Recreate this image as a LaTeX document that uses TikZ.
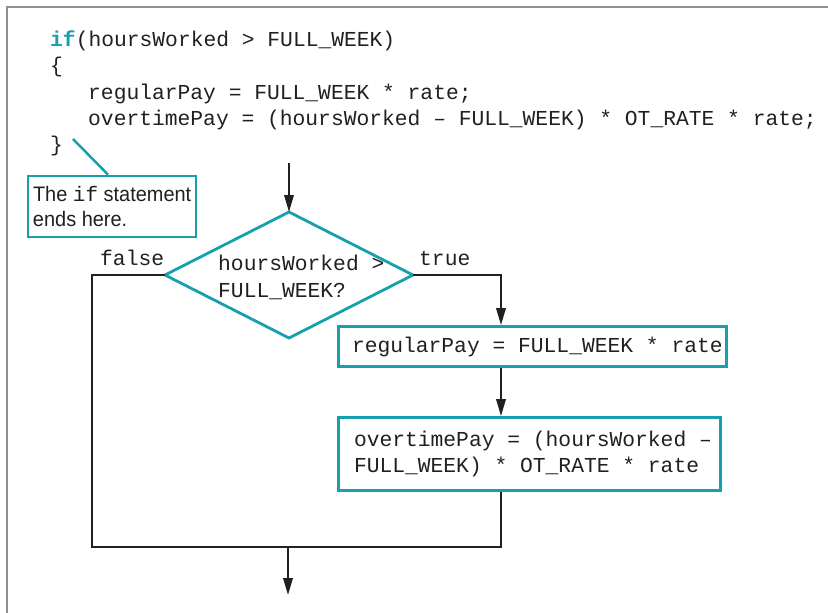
\documentclass[tikz,border=0pt]{standalone}
\usepackage{fontspec}
\setmainfont{Liberation Sans}
\setmonofont{Liberation Mono}
\newfontfamily\notefont{Liberation Sans}[FakeStretch=0.95]
\usetikzlibrary{arrows.meta}
\definecolor{tealc}{HTML}{16A0AE}
\definecolor{ink}{HTML}{231F20}
\definecolor{framegray}{HTML}{8E8E8E}
\newcommand{\oneline}[1]{\mbox{\spaceskip=0pt\xspaceskip=0pt\relax #1}}
\begin{document}
\begin{tikzpicture}[x=1pt,y=-1pt,
  mono/.style={font=\fontsize{21.3}{25.5}\selectfont\ttfamily, text=ink},
  codeline/.style={mono, anchor=base west, inner sep=0pt},
  box/.style={draw=tealc, line width=2.8pt, mono, inner ysep=0pt, align=left},
  flow/.style={draw=ink, line width=2pt, line join=miter},
  arr/.style={flow, -{Triangle[length=17pt,width=9.5pt]}},
]
\useasboundingbox (0,0) rectangle (828,613);
\draw[framegray, line width=2.5pt] (7,615) -- (7,7) -- (830,7);

% code
\node[codeline] (c1) at (50,46) {\textcolor{tealc}{\bfseries if}(hoursWorked > FULL\_WEEK)};
\node[codeline] (c2) at (50,72.5) {\{};
\node[codeline] (c3) at (88,99) {regularPay = FULL\_WEEK * rate;};
\node[codeline] (c4) at (88,125.5) {overtimePay = (hoursWorked – FULL\_WEEK) * OT\_RATE * rate;};
\node[codeline] (c5) at (50,151) {\}};

% callout
\node[draw=tealc, line width=2.8pt, font=\fontsize{21}{25}\notefont, text=ink,
      text width=158pt, align=left, inner xsep=5pt, inner ysep=0pt, minimum height=61pt]
      (note) at (112,206.5) {\oneline{The {\ttfamily if} statement}\\\oneline{ends here.}};
\coordinate (lead) at (73,139);
\draw[tealc, line width=2.5pt] (lead) -- (note.north -| 108,0);

% decision
\coordinate (dtop) at (289,212);
\coordinate (dright) at (413,275);
\coordinate (dbot) at (289,338);
\coordinate (dleft) at (165,275);
\draw[tealc, line width=2.8pt, line join=miter] (dtop) -- (dright) -- (dbot) -- (dleft) -- cycle;
\node[codeline] (q1) at (218,270) {hoursWorked >};
\node[codeline] (q2) at (218,297) {FULL\_WEEK?};
\node[codeline] (lf) at (100,265) {false};
\node[codeline] (lt) at (419,265) {true};

% process boxes
\node[box, inner xsep=13.5pt, text width=361pt, minimum height=40pt] (b1) at (532.5,346.5)
  {\oneline{regularPay = FULL\_WEEK * rate}};
\node[box, inner xsep=15.5pt, text width=351pt, minimum height=73pt] (b2) at (529.5,454)
  {\oneline{overtimePay = (hoursWorked –}\\\oneline{FULL\_WEEK) * OT\_RATE * rate}};

% connectors
\coordinate (start) at (289,163);
\coordinate (colx) at (501,0);
\coordinate (jl) at (92,547);
\coordinate (jr) at (501,547);
\coordinate (jm) at (288,547);
\coordinate (exit) at (288,595);
\draw[arr] (start) -- (dtop);
\draw[arr] (dright) -| (b1.north -| colx);
\draw[arr] (b1.south -| colx) -- (b2.north -| colx);
\draw[flow] (dleft) -| (jl) -- (jr) -- (b2.south -| colx);
\draw[arr] (jm) -- (exit);
\end{tikzpicture}
\end{document}
